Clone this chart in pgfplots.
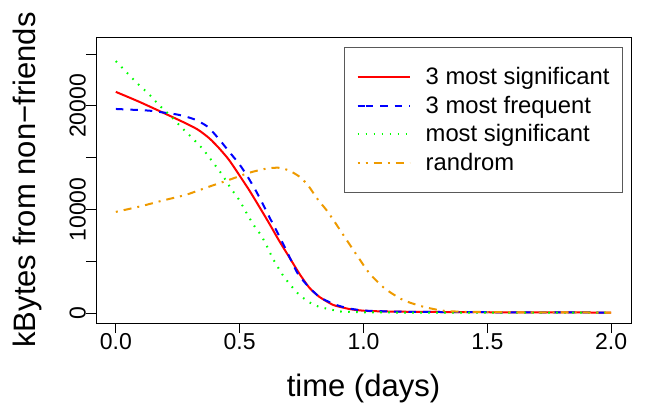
\documentclass[border=0pt]{standalone}
\usepackage{fontspec}
\setmainfont{Liberation Sans}
\usepackage{pgfplots}
\pgfplotsset{compat=1.18}
\usepackage{pgfplotstable}

\definecolor{rorange}{HTML}{EE9A00}

% time (days), kBytes
\pgfplotstableread{
t v
0     21350
0.093 20410
0.187 19380
0.268 18480
0.329 17740
0.377 16880
0.417 15910
0.457 14780
0.498 13330
0.538 11880
0.579 10270
0.619 8660
0.66  6950
0.70  5400
0.741 3800
0.781 2450
0.822 1550
0.875 800
0.903 600
0.95  350
1.01  200
1.1   140
1.2   110
1.4   80
1.6   60
1.8   50
2.0   40
}\mostsigthree

\pgfplotstableread{
t v
0     19700
0.134 19540
0.194 19350
0.255 19130
0.316 18710
0.37  18000
0.417 16780
0.457 15590
0.498 14390
0.532 13170
0.565 11820
0.592 10600
0.619 9300
0.653 7750
0.68  6450
0.707 5120
0.734 3830
0.775 2610
0.825 1500
0.89  770
0.95  400
1.01  220
1.1   150
1.2   110
1.4   80
1.6   60
1.8   50
2.0   40
}\mostfreqthree

\pgfplotstableread{
t v
0     24320
0.086 22190
0.134 21130
0.174 20090
0.221 19030
0.262 18000
0.309 16880
0.352 15810
0.39  14620
0.43  13330
0.464 12050
0.498 10920
0.532 9470
0.565 8180
0.586 7530
0.613 6300
0.633 5300
0.66  4200
0.68  3450
0.714 2450
0.741 1750
0.78  1050
0.82  600
0.875 290
0.9   150
1.0   60
1.2   40
1.5   30
2.0   30
}\mostsig

\pgfplotstableread{
t v
0     9760
0.1   10300
0.2   10920
0.282 11400
0.37  12140
0.457 12850
0.532 13490
0.58  13800
0.619 13980
0.66  14020
0.70  13750
0.741 13170
0.775 12360
0.815 10980
0.85  9950
0.875 9100
0.923 7370
0.977 5440
1.024 3830
1.085 2380
1.159 1260
1.24  610
1.32  220
1.4   120
1.6   70
1.8   50
2.0   40
}\randrom

\begin{document}
\begin{tikzpicture}
\begin{axis}[
    scale only axis,
    width=535bp, height=286bp,
    xmin=-0.08, xmax=2.08,
    ymin=-970, ymax=26650,
    axis line style={line width=0.9bp},
    xtick={0,0.5,1,1.5,2},
    xticklabels={0.0,0.5,1.0,1.5,2.0},
    ytick={0,5000,10000,15000,20000,25000},
    yticklabels={0,,10000,,20000,},
    scaled y ticks=false,
    xtick pos=lower, ytick pos=left,
    tick align=outside,
    major tick length=10bp,
    tick style={black, line width=0.9bp},
    tick label style={font=\fontsize{23bp}{28bp}\selectfont, inner sep=0pt},
    xticklabel style={anchor=north},
    yticklabel style={rotate=90, anchor=south},
    xlabel={time (days)},
    ylabel={kBytes from non−friends},
    label style={font=\fontsize{31bp}{37bp}\selectfont, inner sep=0pt},
    xlabel style={at={(axis description cs:0.5,-0.2577)}, anchor=base},
    ylabel style={at={(axis description cs:-0.1140,0.5)}, anchor=base},
    legend cell align=left,
    legend style={
        at={(axis description cs:0.9845,0.964)}, anchor=north east,
        draw=black!65, line width=0.9bp,
        inner xsep=12.7bp, inner ysep=15.4bp,
        font=\fontsize{23.8bp}{28bp}\selectfont,
        row sep=0pt, column sep=15bp,
        nodes={inner sep=0pt, text height=21.6bp, text depth=6.9bp},
    },
    legend image code/.code={
        \path (0bp,0bp) -- (8bp,0bp);
        \draw[#1] (8bp,0bp) -- (52bp,0bp);
    },
]
\addplot[red, line width=2bp, smooth, tension=0.4] table[x=t, y=v] {\mostsigthree};
\addlegendentry{3 most significant}
\addplot[blue, line width=2bp, dash pattern=on 7.5bp off 7bp, smooth, tension=0.4] table[x=t, y=v] {\mostfreqthree};
\addlegendentry{3 most frequent}
\addplot[green, line width=2bp, dash pattern=on 1.6bp off 6.4bp, smooth, tension=0.4] table[x=t, y=v] {\mostsig};
\addlegendentry{most significant}
\addplot[rorange, line width=2bp, dash pattern=on 2bp off 6bp on 8bp off 6bp, smooth, tension=0.4] table[x=t, y=v] {\randrom};
\addlegendentry{randrom}
\end{axis}
\pgfresetboundingbox
\useasboundingbox ([shift={(-96bp,-97bp)}]current axis.south west) rectangle ([shift={(38bp,37bp)}]current axis.north east);
\end{tikzpicture}
\end{document}
